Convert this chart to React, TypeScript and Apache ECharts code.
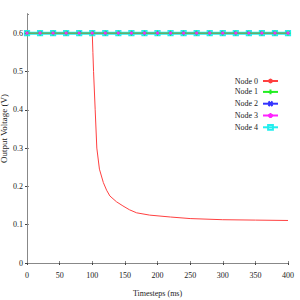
import React, { useEffect, useRef } from "react";
import * as echarts from "echarts";

const seriesNames = ["Node 0", "Node 1", "Node 2", "Node 3", "Node 4"];
const seriesColors = ["#ff4040", "#22ee22", "#3333ff", "#ff22ff", "#22eeee"];

// Node 0 (time ms, voltage V)
const node0Time = [0, 100, 101, 102, 104.5, 107, 111, 117, 122, 127, 137, 147, 157, 168, 188, 220, 250, 300, 350, 400];
const node0Volt = [0.6, 0.6, 0.55, 0.5, 0.4, 0.3, 0.245, 0.21, 0.19, 0.175, 0.16, 0.149, 0.139, 0.131, 0.125, 0.12, 0.116, 0.113, 0.112, 0.111];

// Nodes 1-4 sampled every 20 ms
const nodeTime = [0, 20, 40, 60, 80, 100, 120, 140, 160, 180, 200, 220, 240, 260, 280, 300, 320, 340, 360, 380, 400];
const node1Volt = [0.6, 0.6, 0.6, 0.6, 0.6, 0.6, 0.6, 0.6, 0.6, 0.6, 0.6, 0.6, 0.6, 0.6, 0.6, 0.6, 0.6, 0.6, 0.6, 0.6, 0.6];
const node2Volt = [0.6, 0.6, 0.6, 0.6, 0.6, 0.6, 0.6, 0.6, 0.6, 0.6, 0.6, 0.6, 0.6, 0.6, 0.6, 0.6, 0.6, 0.6, 0.6, 0.6, 0.6];
const node3Volt = [0.6, 0.6, 0.6, 0.6, 0.6, 0.6, 0.6, 0.6, 0.6, 0.6, 0.6, 0.6, 0.6, 0.6, 0.6, 0.6, 0.6, 0.6, 0.6, 0.6, 0.6];
const node4Volt = [0.6, 0.6, 0.6, 0.6, 0.6, 0.6, 0.6, 0.6, 0.6, 0.6, 0.6, 0.6, 0.6, 0.6, 0.6, 0.6, 0.6, 0.6, 0.6, 0.6, 0.6];

const xTitle = "Timesteps (ms)";
const yTitle = "Output Voltage (V)";

const FONT = "Liberation Serif";

const pair = (xs: number[], ys: number[]) => xs.map((x, i) => [x, ys[i]]);

export default function App() {
  const ref = useRef<HTMLDivElement>(null);
  useEffect(() => {
    if (!ref.current) return;
    const chart = echarts.init(ref.current, undefined, { renderer: "svg" });
    const plusPath = "path://M5,0L5,10M0,5L10,5";
    const starPath = "path://M5,0L5,10M0,5L10,5M1.5,1.5L8.5,8.5M8.5,1.5L1.5,8.5";
    const xPath = "path://M1,1L9,9M9,1L1,9M0,5L10,5";
    const axisLabel = { fontFamily: FONT, fontSize: 8, color: "#222" };
    chart.setOption({
      animation: false,
      backgroundColor: "#fff",
      grid: { left: 27, right: 12, top: 14, bottom: 37, containLabel: false, outerBoundsMode: "none" },
      legend: {
        orient: "vertical",
        right: 16,
        top: 72,
        align: "right",
        itemWidth: 15,
        itemHeight: 6,
        itemGap: 2,
        textStyle: { fontFamily: FONT, fontSize: 8, color: "#222", lineHeight: 8 },
        data: seriesNames,
      },
      xAxis: [
        {
          type: "value",
          min: 0,
          max: 400,
          interval: 50,
          name: xTitle,
          nameLocation: "middle",
          nameGap: 26,
          nameMoveOverlap: false,
          nameTextStyle: { fontFamily: FONT, fontSize: 8, color: "#222" },
          axisLine: { lineStyle: { color: "#444" } },
          axisTick: { inside: false, length: 2, lineStyle: { color: "#444" } },
          axisLabel: { ...axisLabel, margin: 8 },
          splitLine: { show: false },
        },
        {
          type: "value",
          position: "top",
          min: 0,
          max: 400,
          interval: 50,
          axisLine: { lineStyle: { color: "#888" } },
          axisTick: { inside: false, length: 2, lineStyle: { color: "#888" } },
          axisLabel: { show: false },
          splitLine: { show: false },
        },
      ],
      yAxis: [
        {
          type: "value",
          min: 0,
          max: 0.65,
          interval: 0.1,
          name: yTitle,
          nameLocation: "middle",
          nameGap: 19,
          nameMoveOverlap: false,
          nameTextStyle: { fontFamily: FONT, fontSize: 9, color: "#222", padding: [0, 0, 0, 20] },
          axisLine: { show: true, lineStyle: { color: "#444" } },
          axisTick: { show: true, inside: false, length: 2, lineStyle: { color: "#444" } },
          axisLabel: {
            ...axisLabel,
            margin: 4,
            showMaxLabel: false,
            formatter: (v: number) => (Math.abs(v - 0.65) < 1e-6 ? "" : v === 0 ? "0" : v.toFixed(1)),
          },
          splitLine: { show: false },
        },
        {
          type: "value",
          position: "right",
          min: 0,
          max: 0.65,
          interval: 0.1,
          axisLine: { show: true, lineStyle: { color: "#888" } },
          axisTick: { show: true, inside: false, length: 2, lineStyle: { color: "#888" } },
          axisLabel: { show: false },
          splitLine: { show: false },
        },
      ],
      series: [
        {
          name: seriesNames[0],
          type: "line",
          data: pair(node0Time, node0Volt),
          showSymbol: false,
          symbol: "none",
          color: seriesColors[0],
          lineStyle: { width: 1, color: seriesColors[0] },
          z: 2,
        },
        {
          name: seriesNames[2],
          type: "line",
          data: pair(nodeTime, node2Volt),
          symbol: xPath,
          symbolSize: 5,
          color: seriesColors[2],
          itemStyle: { color: "none", borderColor: seriesColors[2], borderWidth: 1 },
          lineStyle: { width: 1, color: seriesColors[2] },
          z: 3,
        },
        {
          name: seriesNames[4],
          type: "line",
          data: pair(nodeTime, node4Volt),
          symbol: "rect",
          symbolSize: 5,
          color: seriesColors[4],
          itemStyle: { color: "none", borderColor: seriesColors[4], borderWidth: 1.2 },
          lineStyle: { width: 3, color: seriesColors[4] },
          z: 4,
        },
        {
          name: seriesNames[1],
          type: "line",
          data: pair(nodeTime, node1Volt),
          symbol: plusPath,
          symbolSize: 5,
          color: seriesColors[1],
          itemStyle: { color: "none", borderColor: seriesColors[1], borderWidth: 1 },
          lineStyle: { width: 1.5, color: seriesColors[1] },
          z: 5,
        },
        {
          name: seriesNames[3],
          type: "line",
          data: pair(nodeTime, node3Volt),
          symbol: starPath,
          symbolSize: 3,
          color: seriesColors[3],
          itemStyle: { color: "none", borderColor: seriesColors[3], borderWidth: 1 },
          lineStyle: { width: 0.5, color: seriesColors[3] },
          z: 6,
        },
      ],
    });
    return () => chart.dispose();
  }, []);
  return <div ref={ref} style={{ position: "fixed", left: 0, top: 0, width: 300, height: 300 }} />;
}
